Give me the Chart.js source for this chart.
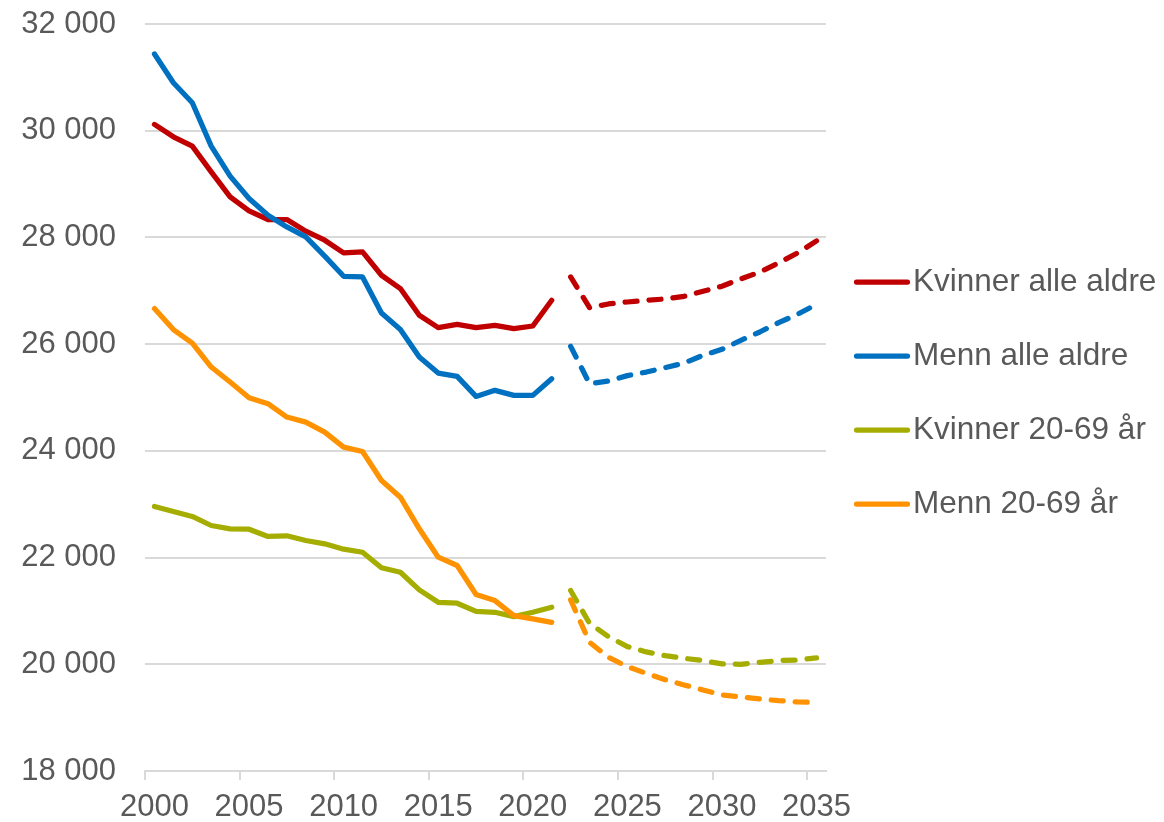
<!DOCTYPE html>
<html lang="no">
<head>
<meta charset="utf-8">
<title>Kvinner og menn, alle aldre og 20-69 år</title>
<script src="https://cdn.jsdelivr.net/npm/chart.js@4.4.1/dist/chart.umd.min.js"></script>
<style>
  html, body { margin: 0; padding: 0; background: #ffffff; }
  canvas { display: block; }
</style>
</head>
<body>
<canvas id="chart" width="1164" height="822"></canvas>
<script>
// Years on the category axis
const years = [2000, 2001, 2002, 2003, 2004, 2005, 2006, 2007, 2008, 2009,
               2010, 2011, 2012, 2013, 2014, 2015, 2016, 2017, 2018, 2019,
               2020, 2021, 2022, 2023, 2024, 2025, 2026, 2027, 2028, 2029,
               2030, 2031, 2032, 2033, 2034, 2035];
const xTickYears = [2000, 2005, 2010, 2015, 2020, 2025, 2030, 2035];
const yTickValues = [18000, 20000, 22000, 24000, 26000, 28000, 30000, 32000];

// Observed values 2000–2021
const kvinnerAlleObs = [30118, 29886, 29711, 29229, 28760, 28498, 28336, 28336, 28117, 27948,
                        27710, 27728, 27291, 27042, 26541, 26310, 26372, 26310, 26353, 26291,
                        26340, 26822];
const mennAlleObs = [31437, 30899, 30524, 29711, 29148, 28730, 28417, 28197, 28010, 27650,
                     27272, 27260, 26584, 26273, 25759, 25458, 25396, 25021, 25134, 25040,
                     25040, 25353];
const kvinner2069Obs = [22958, 22864, 22770, 22601, 22539, 22531, 22395, 22408, 22320, 22258,
                        22157, 22100, 21808, 21725, 21395, 21162, 21144, 20993, 20975, 20894,
                        20975, 21069];
const menn2069Obs = [26666, 26273, 26021, 25571, 25290, 24997, 24884, 24633, 24539, 24352,
                     24070, 23989, 23445, 23132, 22539, 22007, 21851, 21307, 21194, 20913,
                     20851, 20787];

// Projected values 2022–2035
const kvinnerAlleProj = [27259, 26685, 26753, 26790, 26822, 26847, 26897, 26991, 27085, 27222,
                         27353, 27522, 27710, 27935];
const mennAlleProj = [25959, 25259, 25308, 25410, 25477, 25560, 25646, 25790, 25903, 26072,
                      26228, 26404, 26560, 26747];
const kvinner2069Proj = [21382, 20768, 20519, 20331, 20232, 20162, 20112, 20069, 20007, 20000,
                         20037, 20069, 20082, 20119];
const menn2069Proj = [21207, 20412, 20131, 19956, 19830, 19712, 19613, 19519, 19425, 19388,
                      19350, 19318, 19294, 19288];

const seriesLabels = ['Kvinner alle aldre', 'Menn alle aldre', 'Kvinner 20-69 år', 'Menn 20-69 år'];
const seriesColors = ['#C00000', '#0070C0', '#A5AE00', '#FF9200'];
const observed = [kvinnerAlleObs, mennAlleObs, kvinner2069Obs, menn2069Obs];
const projected = [kvinnerAlleProj, mennAlleProj, kvinner2069Proj, menn2069Proj];

const textColor = '#595959';
const gridColor = '#d9d9d9';
const fontFamily = '"Liberation Sans", Arial, Helvetica, sans-serif';
const lineW = 5.25;

function fmt(v) {
  return String(v).replace(/\B(?=(\d{3})+(?!\d))/g, ' ');
}

// Observed part is solid, projection is dashed; later series are drawn on top
const datasets = [];
observed.forEach((obs, i) => {
  const proj = projected[i];
  const pad = (n) => new Array(n).fill(null);
  datasets.push({
    label: seriesLabels[i],
    data: obs.concat(pad(years.length - obs.length)),
    borderColor: seriesColors[i],
    borderWidth: lineW,
    borderCapStyle: 'round',
    borderJoinStyle: 'round',
    pointRadius: 0,
    spanGaps: false,
    order: 10 - i
  });
  datasets.push({
    label: seriesLabels[i] + ' (framskrevet)',
    data: pad(years.length - proj.length).concat(proj),
    borderColor: seriesColors[i],
    borderWidth: lineW,
    borderDash: [12, 12],
    borderCapStyle: 'round',
    borderJoinStyle: 'round',
    pointRadius: 0,
    spanGaps: false,
    order: 10 - i
  });
});

// Legend drawn to the right of the plot: a line sample and the series name
const sideLegend = {
  id: 'sideLegend',
  afterDraw(chart, args, opts) {
    const ctx = chart.ctx;
    ctx.save();
    ctx.font = opts.fontSize + 'px ' + fontFamily;
    ctx.textAlign = 'left';
    ctx.textBaseline = 'alphabetic';
    seriesLabels.forEach((label, i) => {
      const y = opts.top + i * opts.step;
      ctx.strokeStyle = seriesColors[i];
      ctx.lineWidth = lineW;
      ctx.lineCap = 'round';
      ctx.beginPath();
      ctx.moveTo(opts.x0, y);
      ctx.lineTo(opts.x1, y);
      ctx.stroke();
      ctx.fillStyle = textColor;
      ctx.fillText(label, opts.textX, y + opts.baselineShift);
    });
    ctx.restore();
  }
};

Chart.defaults.font.family = fontFamily;

new Chart(document.getElementById('chart'), {
  type: 'line',
  data: { labels: years, datasets: datasets },
  plugins: [sideLegend],
  options: {
    responsive: false,
    animation: false,
    devicePixelRatio: 1,
    layout: { padding: { top: 24, right: 338, bottom: 0, left: 0 } },
    elements: { line: { tension: 0 }, point: { radius: 0 } },
    plugins: {
      legend: { display: false },
      tooltip: { enabled: false },
      sideLegend: { x0: 856.5, x1: 907.5, textX: 913, top: 282, step: 74, baselineShift: 8.5, fontSize: 31.5 }
    },
    scales: {
      x: {
        type: 'category',
        offset: true,
        grid: {
          offset: true,
          drawOnChartArea: false,
          drawTicks: true,
          tickLength: 9,
          lineWidth: 2,
          color: (c) => (c.index !== undefined && c.index % 5 === 0) ? gridColor : 'rgba(0,0,0,0)'
        },
        border: { display: true, color: gridColor, width: 2 },
        ticks: {
          autoSkip: false,
          maxRotation: 0,
          minRotation: 0,
          padding: 12,
          color: textColor,
          font: { size: 31, lineHeight: 1 },
          callback: (v, i) => xTickYears.includes(years[i]) ? String(years[i]) : ''
        },
        afterFit: (s) => { s.height = 51; }
      },
      y: {
        min: yTickValues[0],
        max: yTickValues[yTickValues.length - 1],
        afterBuildTicks: (s) => { s.ticks = yTickValues.map(v => ({ value: v })); },
        grid: { color: gridColor, lineWidth: 2, drawTicks: false },
        border: { display: false },
        ticks: {
          padding: 29,
          color: textColor,
          font: { size: 31 },
          callback: (v) => fmt(v)
        },
        afterFit: (s) => {
          s.width = 145;
          // only the half label height is needed above and below the plot
          s.paddingTop = 16;
          s.paddingBottom = 16;
        }
      }
    }
  }
});
</script>
</body>
</html>
